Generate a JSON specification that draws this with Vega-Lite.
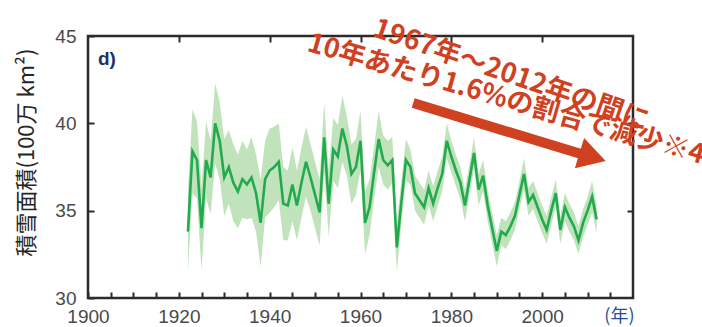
{
  "$schema": "https://vega.github.io/schema/vega-lite/v6.json",
  "width": 545,
  "height": 262,
  "autosize": {"type": "none"},
  "padding": {"left": 88, "top": 36, "right": 69, "bottom": 29},
  "background": "white",
  "config": {
    "view": {"stroke": "#2b2b2b", "strokeWidth": 2.5},
    "axis": {
      "grid": false,
      "domain": false,
      "tickColor": "#2b2b2b",
      "tickWidth": 2,
      "tickSize": -6,
      "zindex": 1,
      "labelFont": "Liberation Sans",
      "labelFontSize": 19,
      "labelColor": "#4a4a4a"
    }
  },
  "datasets": {
    "snow": [
      {"year": 1922, "v": 33.8, "lo": 31.5, "hi": 36.1},
      {"year": 1923, "v": 38.4, "lo": 36.0, "hi": 40.8},
      {"year": 1924, "v": 37.9, "lo": 35.7, "hi": 40.1},
      {"year": 1925, "v": 34.0, "lo": 31.6, "hi": 36.4},
      {"year": 1926, "v": 37.9, "lo": 35.7, "hi": 40.1},
      {"year": 1927, "v": 36.9, "lo": 34.8, "hi": 39.0},
      {"year": 1928, "v": 40.0, "lo": 37.7, "hi": 42.3},
      {"year": 1929, "v": 39.0, "lo": 36.8, "hi": 41.2},
      {"year": 1930, "v": 36.9, "lo": 34.7, "hi": 39.1},
      {"year": 1931, "v": 37.5, "lo": 35.4, "hi": 39.6},
      {"year": 1932, "v": 36.6, "lo": 34.4, "hi": 38.8},
      {"year": 1933, "v": 36.1, "lo": 34.0, "hi": 38.2},
      {"year": 1934, "v": 36.8, "lo": 34.6, "hi": 39.0},
      {"year": 1935, "v": 36.5, "lo": 34.5, "hi": 38.5},
      {"year": 1936, "v": 36.9, "lo": 34.6, "hi": 39.2},
      {"year": 1937, "v": 36.0, "lo": 33.8, "hi": 38.2},
      {"year": 1938, "v": 34.3, "lo": 31.8, "hi": 36.8},
      {"year": 1939, "v": 36.8, "lo": 34.6, "hi": 39.0},
      {"year": 1940, "v": 37.3, "lo": 34.9, "hi": 39.7},
      {"year": 1941, "v": 37.5, "lo": 35.2, "hi": 39.8},
      {"year": 1942, "v": 37.8, "lo": 35.6, "hi": 40.0},
      {"year": 1943, "v": 35.4, "lo": 33.3, "hi": 37.5},
      {"year": 1944, "v": 35.3, "lo": 33.3, "hi": 37.3},
      {"year": 1945, "v": 36.5, "lo": 34.4, "hi": 38.6},
      {"year": 1946, "v": 35.3, "lo": 33.3, "hi": 37.3},
      {"year": 1947, "v": 36.6, "lo": 34.6, "hi": 38.6},
      {"year": 1948, "v": 37.8, "lo": 35.8, "hi": 39.8},
      {"year": 1949, "v": 36.9, "lo": 35.0, "hi": 38.8},
      {"year": 1950, "v": 35.9, "lo": 34.0, "hi": 37.8},
      {"year": 1951, "v": 34.9, "lo": 33.0, "hi": 36.8},
      {"year": 1952, "v": 39.2, "lo": 37.2, "hi": 41.2},
      {"year": 1953, "v": 35.4, "lo": 33.5, "hi": 37.3},
      {"year": 1954, "v": 38.5, "lo": 36.7, "hi": 40.3},
      {"year": 1955, "v": 38.1, "lo": 36.3, "hi": 39.9},
      {"year": 1956, "v": 39.7, "lo": 37.8, "hi": 41.6},
      {"year": 1957, "v": 38.7, "lo": 37.0, "hi": 40.4},
      {"year": 1958, "v": 37.1, "lo": 35.4, "hi": 38.8},
      {"year": 1959, "v": 37.5, "lo": 35.9, "hi": 39.1},
      {"year": 1960, "v": 39.0, "lo": 37.3, "hi": 40.7},
      {"year": 1961, "v": 34.3, "lo": 32.5, "hi": 36.1},
      {"year": 1962, "v": 35.2, "lo": 33.6, "hi": 36.8},
      {"year": 1963, "v": 37.2, "lo": 35.7, "hi": 38.7},
      {"year": 1964, "v": 39.1, "lo": 37.5, "hi": 40.7},
      {"year": 1965, "v": 37.9, "lo": 36.5, "hi": 39.3},
      {"year": 1966, "v": 37.6, "lo": 36.2, "hi": 39.0},
      {"year": 1967, "v": 37.9, "lo": 36.6, "hi": 39.2},
      {"year": 1968, "v": 32.9, "lo": 31.5, "hi": 34.3},
      {"year": 1969, "v": 35.5, "lo": 34.3, "hi": 36.7},
      {"year": 1970, "v": 37.9, "lo": 36.7, "hi": 39.1},
      {"year": 1971, "v": 37.5, "lo": 36.5, "hi": 38.5},
      {"year": 1972, "v": 36.0, "lo": 35.0, "hi": 37.0},
      {"year": 1973, "v": 35.6, "lo": 34.6, "hi": 36.6},
      {"year": 1974, "v": 35.2, "lo": 34.2, "hi": 36.2},
      {"year": 1975, "v": 36.3, "lo": 35.3, "hi": 37.3},
      {"year": 1976, "v": 35.4, "lo": 34.4, "hi": 36.4},
      {"year": 1977, "v": 36.3, "lo": 35.3, "hi": 37.3},
      {"year": 1978, "v": 37.1, "lo": 36.1, "hi": 38.1},
      {"year": 1979, "v": 39.0, "lo": 38.0, "hi": 40.0},
      {"year": 1980, "v": 38.1, "lo": 37.2, "hi": 39.0},
      {"year": 1981, "v": 37.3, "lo": 36.4, "hi": 38.2},
      {"year": 1982, "v": 36.6, "lo": 35.7, "hi": 37.5},
      {"year": 1983, "v": 35.3, "lo": 34.4, "hi": 36.2},
      {"year": 1984, "v": 36.8, "lo": 35.9, "hi": 37.7},
      {"year": 1985, "v": 38.3, "lo": 37.4, "hi": 39.2},
      {"year": 1986, "v": 36.2, "lo": 35.3, "hi": 37.1},
      {"year": 1987, "v": 37.0, "lo": 36.1, "hi": 37.9},
      {"year": 1988, "v": 35.3, "lo": 34.4, "hi": 36.2},
      {"year": 1989, "v": 34.0, "lo": 33.1, "hi": 34.9},
      {"year": 1990, "v": 32.7, "lo": 31.8, "hi": 33.6},
      {"year": 1991, "v": 33.8, "lo": 33.0, "hi": 34.6},
      {"year": 1992, "v": 33.6, "lo": 32.8, "hi": 34.4},
      {"year": 1993, "v": 34.1, "lo": 33.3, "hi": 34.9},
      {"year": 1994, "v": 34.7, "lo": 33.9, "hi": 35.5},
      {"year": 1995, "v": 35.9, "lo": 35.1, "hi": 36.7},
      {"year": 1996, "v": 37.1, "lo": 36.2, "hi": 38.0},
      {"year": 1997, "v": 35.5, "lo": 34.7, "hi": 36.3},
      {"year": 1998, "v": 35.9, "lo": 35.1, "hi": 36.7},
      {"year": 1999, "v": 35.2, "lo": 34.4, "hi": 36.0},
      {"year": 2000, "v": 34.5, "lo": 33.7, "hi": 35.3},
      {"year": 2001, "v": 33.9, "lo": 33.1, "hi": 34.7},
      {"year": 2002, "v": 35.0, "lo": 34.2, "hi": 35.8},
      {"year": 2003, "v": 36.0, "lo": 35.2, "hi": 36.8},
      {"year": 2004, "v": 33.9, "lo": 33.1, "hi": 34.7},
      {"year": 2005, "v": 35.2, "lo": 34.4, "hi": 36.0},
      {"year": 2006, "v": 34.6, "lo": 33.8, "hi": 35.4},
      {"year": 2007, "v": 34.1, "lo": 33.3, "hi": 34.9},
      {"year": 2008, "v": 33.3, "lo": 32.5, "hi": 34.1},
      {"year": 2009, "v": 34.3, "lo": 33.5, "hi": 35.1},
      {"year": 2010, "v": 35.0, "lo": 34.2, "hi": 35.8},
      {"year": 2011, "v": 35.8, "lo": 34.9, "hi": 36.7},
      {"year": 2012, "v": 34.5, "lo": 33.7, "hi": 35.3}
    ]
  },
  "resolve": {"axis": {"x": "independent", "y": "independent"}},
  "layer": [
    {
      "data": {"name": "snow"},
      "mark": {"type": "area", "color": "#bde2b8", "opacity": 0.95},
      "encoding": {
        "x": {
          "field": "year", "type": "quantitative",
          "scale": {"domain": [1900, 2020], "nice": false, "zero": false},
          "axis": {
            "orient": "bottom",
            "title": null,
            "values": [1900, 1905, 1910, 1915, 1920, 1925, 1930, 1935, 1940, 1945, 1950, 1955, 1960, 1965, 1970, 1975, 1980, 1985, 1990, 1995, 2000, 2005, 2010, 2015],
            "format": "d",
            "labelExpr": "datum.value % 20 == 0 ? datum.label : ''",
            "labelPadding": 15,
            "labelFlush": false,
            "labelOverlap": false
          }
        },
        "y": {
          "field": "lo", "type": "quantitative",
          "scale": {"domain": [30, 45], "nice": false, "zero": false},
          "axis": {
            "orient": "left",
            "values": [30, 35, 40, 45],
            "title": "積雪面積(100万 km²)",
            "titleFont": "Noto Sans CJK JP",
            "titleFontSize": 22,
            "titleFontWeight": "normal",
            "titleColor": "#262626",
            "titleAngle": -90,
            "titleBaseline": "middle",
            "titleAlign": "center",
            "titleX": -62,
            "titleY": 116,
            "labelPadding": 18,
            "labelFlush": false
          }
        },
        "y2": {"field": "hi"}
      }
    },
    {
      "data": {"name": "snow"},
      "mark": {"type": "line", "color": "#22aa4e", "strokeWidth": 2.6},
      "encoding": {
        "x": {
          "field": "year", "type": "quantitative",
          "axis": {"orient": "top", "title": null, "labels": false, "values": [1920, 1940, 1960, 1980, 2000], "tickSize": -6}
        },
        "y": {
          "field": "v", "type": "quantitative",
          "axis": {"orient": "right", "title": null, "labels": false, "values": [35, 40], "tickSize": -6}
        }
      }
    },
    {
      "data": {"values": [{"year": 1971.6, "val": 41.16, "year2": 2009.3, "val2": 38.19}]},
      "mark": {"type": "rule", "color": "#cf4120", "strokeWidth": 10},
      "encoding": {
        "x": {"field": "year", "type": "quantitative", "axis": null},
        "y": {"field": "val", "type": "quantitative", "axis": null},
        "x2": {"field": "year2"},
        "y2": {"field": "val2"}
      }
    },
    {
      "data": {"values": [{"year": 2011.1, "val": 38.07}]},
      "mark": {"type": "point", "shape": "triangle-right", "angle": 17, "size": 1000, "filled": true, "color": "#cf4120", "opacity": 1},
      "encoding": {
        "x": {"field": "year", "type": "quantitative", "axis": null},
        "y": {"field": "val", "type": "quantitative", "axis": null}
      }
    },
    {
      "data": {"values": [{"year": 1963.0, "val": 45.45, "label": "1967年～2012年の間に"}]},
      "mark": {"type": "text", "align": "left", "baseline": "middle", "angle": 19, "font": "Noto Sans CJK JP", "fontSize": 27, "fontWeight": "bold", "color": "#cf4120"},
      "encoding": {
        "x": {"field": "year", "type": "quantitative", "axis": null},
        "y": {"field": "val", "type": "quantitative", "axis": null},
        "text": {"field": "label"}
      }
    },
    {
      "data": {"values": [{"year": 1948.5, "val": 44.6, "label": "10年あたり1.6%の割合で減少※4"}]},
      "mark": {"type": "text", "align": "left", "baseline": "middle", "angle": 16, "font": "Noto Sans CJK JP", "fontSize": 27, "fontWeight": "bold", "color": "#cf4120"},
      "encoding": {
        "x": {"field": "year", "type": "quantitative", "axis": null},
        "y": {"field": "val", "type": "quantitative", "axis": null},
        "text": {"field": "label"}
      }
    },
    {
      "data": {"values": [{"year": 1902.2, "val": 43.7, "label": "d)"}]},
      "mark": {"type": "text", "align": "left", "baseline": "middle", "font": "Liberation Sans", "fontSize": 19, "fontWeight": "bold", "color": "#1e2f6e"},
      "encoding": {
        "x": {"field": "year", "type": "quantitative", "axis": null},
        "y": {"field": "val", "type": "quantitative", "axis": null},
        "text": {"field": "label"}
      }
    },
    {
      "data": {"values": [{"year": 2017.0, "val": 28.9, "label": "(年)"}]},
      "mark": {"type": "text", "align": "center", "baseline": "middle", "font": "Noto Sans CJK JP", "fontSize": 18, "color": "#2a4a9a"},
      "encoding": {
        "x": {"field": "year", "type": "quantitative", "axis": null},
        "y": {"field": "val", "type": "quantitative", "axis": null},
        "text": {"field": "label"}
      }
    }
  ]
}
